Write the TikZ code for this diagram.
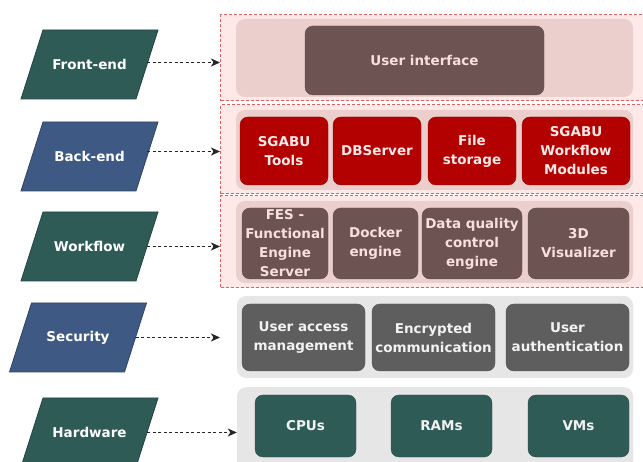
\documentclass[tikz,border=0pt]{standalone}
\usepackage{fontspec}
\setmainfont{DejaVu Sans}
\usetikzlibrary{arrows.meta}
\definecolor{pgreen}{HTML}{2F5B57}
\definecolor{pblue}{HTML}{3E5A84}
\definecolor{outerfill}{HTML}{FFE8E8}
\definecolor{outerline}{HTML}{E06060}
\definecolor{panelpink}{HTML}{EBCFCD}
\definecolor{panelgray}{HTML}{E6E6E6}
\definecolor{brownbox}{HTML}{6D5452}
\definecolor{brownline}{HTML}{5A5046}
\definecolor{redbox}{HTML}{B30000}
\definecolor{graybox}{HTML}{5E5E5E}
\definecolor{pinktext}{HTML}{F8E0DD}
\begin{document}
\begin{tikzpicture}[x=1pt,y=-1pt,
  txt/.style={font=\fontsize{13.5}{19}\selectfont\bfseries, align=center},
  ltxt/.style={txt, text=white, minimum width=115pt, minimum height=69pt, inner sep=0pt},
  outerbox/.style={draw=outerline, fill=outerfill, dash pattern=on 3pt off 2pt,
    line width=1.3pt, inner sep=0pt},
  panel/.style={fill=#1, rounded corners=9pt, inner sep=0pt},
  box/.style={rounded corners=8pt, inner sep=0pt, txt},
  brown/.style={box, fill=brownbox, draw=brownline, text=pinktext},
  red/.style={box, fill=redbox, draw=redbox!85!black, text=outerfill},
  gbox/.style={box, fill=graybox, draw=graybox!85!black, text=white!95!black},
  hbox/.style={box, fill=pgreen, draw=pgreen!85!black, text=white!95!black},
  arr/.style={draw=black!85, line width=1.3pt, dash pattern=on 3pt off 2.5pt,
    -{Stealth[length=9pt,width=8pt,inset=2.5pt]}}]
\useasboundingbox (0,0) rectangle (643,462);
\clip (0,0) rectangle (643,462);

% outer dashed boxes
\node[outerbox, minimum width=440pt, minimum height=86pt, anchor=north west] (feo) at (220,14) {};
\node[outerbox, minimum width=440pt, minimum height=89pt, anchor=north west] (beo) at (220,104) {};
\node[outerbox, minimum width=440pt, minimum height=92pt, anchor=north west] (wfo) at (220,195) {};

% panels
\node[panel=panelpink, minimum width=397pt, minimum height=78pt] (fep) at (434.5,58) {};
\node[panel=panelpink, minimum width=397pt, minimum height=80pt] (bep) at (434.5,150) {};
\node[panel=panelpink, minimum width=397pt, minimum height=82pt] (wfp) at (434.5,242) {};
\node[panel=panelgray, minimum width=396pt, minimum height=82pt] (sep) at (435,337) {};
\node[panel=panelgray, minimum width=396pt, minimum height=84pt, anchor=north] (hwp) at (435,387) {};

% layer label shapes (parallelograms)
\foreach \cx/\cy/\col in {89.5/64.5/pgreen, 89.5/156.5/pblue, 89.5/246.5/pgreen, 78/337.5/pblue, 89.5/432.5/pgreen}
  \filldraw[fill=\col, draw=\col!75!black, line width=0.8pt]
    (\cx-68.5,\cy+34.5) -- (\cx+46.5,\cy+34.5) -- (\cx+68.5,\cy-34.5) -- (\cx-46.5,\cy-34.5) -- cycle;

% layer labels
\node[ltxt] (fe) at (89.5,64.5) {Front-end};
\node[ltxt] (be) at (89.5,156.5) {Back-end};
\node[ltxt] (wf) at (89.5,246.5) {Workflow};
\node[ltxt] (se) at (78,337.5) {Security};
\node[ltxt] (hw) at (89.5,432.5) {Hardware};

% front-end
\node[brown, minimum width=239pt, minimum height=69pt] (ui) at (424.5,60.5) {User interface};

% back-end
\node[red, minimum width=88pt, minimum height=68pt] (st) at (284,151) {SGABU\\Tools};
\node[red, minimum width=88pt, minimum height=68pt] (db) at (377,151) {DBServer};
\node[red, minimum width=88pt, minimum height=68pt] (fs) at (472,151) {File\\storage};
\node[red, minimum width=108pt, minimum height=68pt] (wm) at (576,151) {SGABU\\Workflow\\Modules};

% workflow
\node[brown, minimum width=86pt, minimum height=71pt] (fes) at (285,243.5) {FES -\\Functional\\Engine\\Server};
\node[brown, minimum width=85pt, minimum height=71pt] (de) at (375.5,243.5) {Docker\\engine};
\node[brown, minimum width=100pt, minimum height=71pt] (dq) at (472,243.5) {Data quality\\control\\engine};
\node[brown, minimum width=101pt, minimum height=71pt] (vis) at (578.5,243.5) {3D\\Visualizer};

% security
\node[gbox, minimum width=123pt, minimum height=67pt] (uam) at (303.5,337.5) {User access\\management};
\node[gbox, minimum width=123pt, minimum height=67pt] (enc) at (433.5,337.5) {Encrypted\\communication};
\node[gbox, minimum width=123pt, minimum height=67pt] (ua) at (567.5,337.5) {User\\authentication};

% hardware
\node[hbox, minimum width=101pt, minimum height=62pt] (cpu) at (305.5,426) {CPUs};
\node[hbox, minimum width=101pt, minimum height=62pt] (ram) at (441.5,426) {RAMs};
\node[hbox, minimum width=101pt, minimum height=62pt] (vm) at (578.5,426) {VMs};

% arrows
\draw[arr] ([yshift=2pt]fe.east) -- ([yshift=2pt]fe.east -| feo.west);
\draw[arr] ([yshift=5pt]be.east) -- ([yshift=5pt]be.east -| beo.west);
\draw[arr] (wf.east) -- (wf.east -| wfo.west);
\draw[arr] (se.east) -- (se.east -| wfo.west);
\draw[arr] (hw.east) -- (hw.east -| hwp.west);
\end{tikzpicture}
\end{document}
